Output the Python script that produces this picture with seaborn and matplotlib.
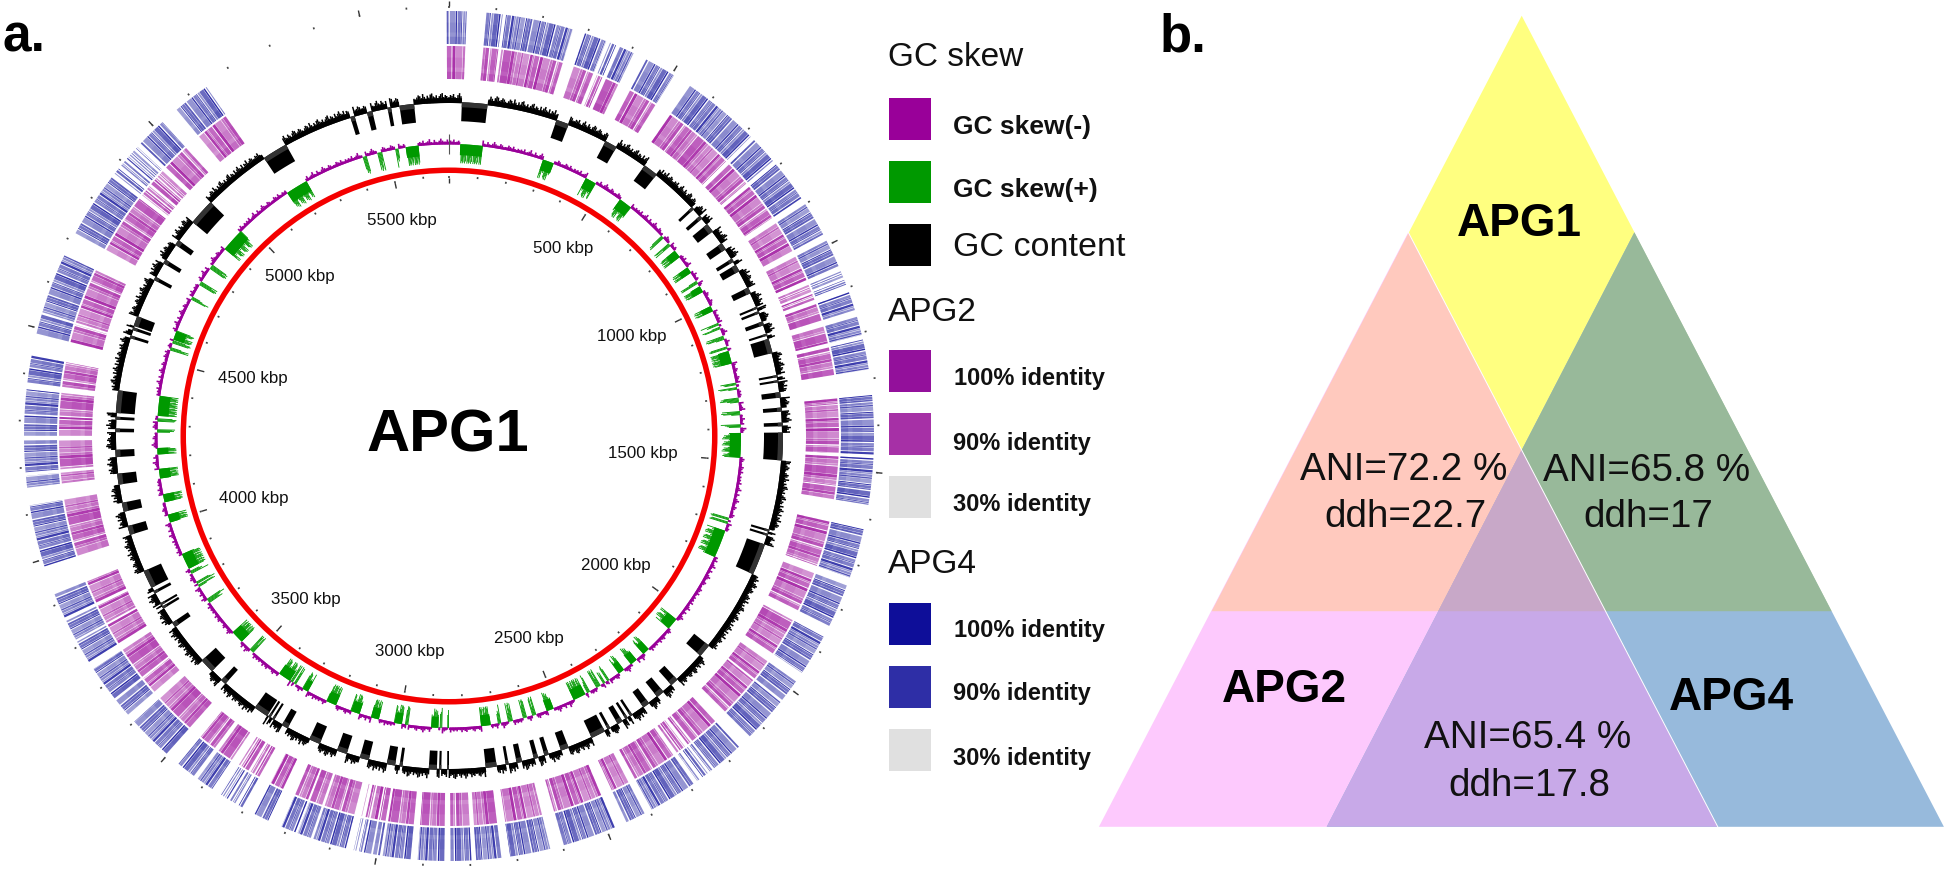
import numpy as np
import pandas as pd
import matplotlib
matplotlib.use("Agg")
import matplotlib.pyplot as plt
from matplotlib.patches import Polygon, Rectangle
from matplotlib.colors import to_rgb
import seaborn as sns

# genome map data (kbp)
genome_kbp = 5690
label_kbp = ["500 kbp", "1000 kbp", "1500 kbp", "2000 kbp", "2500 kbp", "3000 kbp",
             "3500 kbp", "4000 kbp", "4500 kbp", "5000 kbp", "5500 kbp"]

# genomic islands: black blocks in GC content, green blocks in GC skew
island_start = [35, 297, 442, 567, 738, 770, 800, 865, 915, 935, 1005, 1062, 1075, 1105, 1140, 1155,
                1256, 1270, 1303, 1345, 1386, 1413, 1680, 1692, 1722, 2037, 2163, 2213, 2263, 2318,
                2333, 2350, 2388, 2405, 2513, 2570, 2600, 2645, 2682, 2715, 2845, 2866, 2878, 2972,
                2992, 3065, 3127, 3205, 3302, 3345, 3357, 3367, 3510, 3560, 3716, 3775, 3786, 3822,
                3840, 3995, 4060, 4135, 4210, 4278, 4312, 4330, 4537, 4560, 4572, 4708, 4760, 4820,
                4897, 5158, 5418, 5465, 5522, 5555]
island_end = [105, 332, 476, 608, 746, 780, 825, 885, 925, 955, 1022, 1068, 1082, 1116, 1146, 1195,
              1262, 1276, 1318, 1356, 1396, 1489, 1686, 1698, 1809, 2073, 2185, 2235, 2282, 2325,
              2340, 2365, 2396, 2445, 2535, 2582, 2612, 2660, 2690, 2745, 2850, 2872, 2900, 2980,
              3015, 3090, 3155, 3236, 3320, 3351, 3363, 3407, 3525, 3600, 3730, 3782, 3792, 3830,
              3890, 4020, 4085, 4165, 4230, 4288, 4320, 4392, 4545, 4568, 4600, 4718, 4772, 4835,
              4970, 5228, 5430, 5480, 5532, 5595]

# blast rings: stretches with hits, gaps in between
ring_start = [-5, 80, 122, 295, 352, 375, 437, 546, 725, 795, 900, 990, 1062, 1110, 1165, 1215, 1335,
              1350, 1470, 1541, 1623, 1748, 1868, 1980, 2035, 2165, 2240, 2290, 2412, 2482, 2627,
              2733, 2797, 2855, 2927, 2993, 3012, 3032, 3067, 3145, 3180, 3243, 3305, 3380, 3428,
              3503, 3620, 3665, 3760, 3815, 3868, 3985, 4157, 4190, 4268, 4315, 4382, 4488, 4535,
              4718, 4870, 4955, 5060]
ring_end = [38, 115, 268, 343, 366, 407, 505, 715, 785, 885, 975, 1050, 1100, 1150, 1205, 1280, 1348,
            1462, 1538, 1570, 1730, 1842, 1958, 2030, 2133, 2235, 2280, 2395, 2455, 2598, 2714,
            2787, 2842, 2912, 2987, 3008, 3028, 3050, 3140, 3175, 3212, 3275, 3360, 3418, 3470,
            3600, 3660, 3742, 3810, 3860, 3922, 4119, 4182, 4258, 4312, 4368, 4440, 4530, 4665,
            4860, 4945, 5020, 5140]
sparse_start = [352, 1062, 3305, 3032, 2240, 4870]

# texture of the tracks, typed by eye from the zooms (repeats along the ring)
gc_height = [6, 8, 7, 9, 6, 5, 8, 10, 7, 6, 9, 7, 5, 8, 10, 9, 6, 7, 9, 8, 6, 5, 7, 9, 8, 6, 10, 7, 5, 8,
             6, 9, 10, 7, 6, 8, 5, 7, 9, 10, 6, 8, 7, 5, 9, 6, 8, 10, 7, 6, 9, 5, 8, 7, 10, 6, 7, 9, 8, 6]
skew_height = [3, 4, 3, 5, 2, 3, 4, 6, 3, 2, 5, 3, 2, 4, 6, 4, 3, 3, 5, 4, 2, 3, 3, 5, 4, 3, 5, 3, 2, 4]
green_depth = [17, 12, 19, 15, 11, 18, 20, 13, 16, 10, 19, 14, 17, 12, 18, 9, 16, 19, 13, 15]
apg2_width = [9, 4, 14, 6, 3, 11, 7, 16, 5, 8, 3, 12, 6, 10, 4, 18, 7, 5]
apg2_gap = [0.8, 0.6, 1.8, 0.6, 0.8, 2.2, 0.6, 1.2, 0.6, 2.8, 0.8, 0.6, 1.2, 0.6, 2, 0.8, 0.6, 1.2]
apg2_alpha = [.55, .75, .5, .9, .6, .7, .95, .55, .65, .8, .5, .7, .85, .6, .55, .75, .9, .6]
apg4_width = [5, 3, 9, 2, 6, 4, 12, 3, 7, 2, 4, 10, 3, 6, 2, 8, 5, 3]
apg4_gap = [1, 0.8, 2, 1, 0.6, 2.8, 0.8, 1.5, 0.6, 2, 1, 0.8, 2.8, 0.6, 1, 2, 0.8, 1]
apg4_alpha = [.55, .8, .45, 1, .65, .75, .5, .95, .6, .85, .5, .7, 1, .55, .8, .6, .9, .5]

# legend entries
legend_titles = ["GC skew", "APG2", "APG4"]
legend_labels = ["GC skew(-)", "GC skew(+)", "GC content", "100% identity", "90% identity",
                 "30% identity", "100% identity", "90% identity", "30% identity"]
legend_colors = ["#990099", "#009900", "#000000", "#93109b", "#a630a6", "#e0e0e0",
                 "#0e0e99", "#2e2ea6", "#e0e0e0"]

sns.set_theme(style="white")
plt.rcParams["font.family"] = ["Liberation Sans", "DejaVu Sans"]

fig = plt.figure(figsize=(19.46, 8.7), dpi=100, facecolor="white")

# polar axes for the circular map, r is in pixels
cx, cy, rmax = 449, 437, 445
pax = fig.add_axes([(cx - rmax) / 1946, (870 - cy - rmax) / 870, 2 * rmax / 1946, 2 * rmax / 870],
                   projection="polar")
pax.set_theta_zero_location("N")
pax.set_theta_direction(-1)
pax.axis("off")


def to_theta(kbp):
    return np.asarray(kbp, dtype=float) * 2 * np.pi / genome_kbp


def draw_ring(width, gap, alpha, base, r0, r1, overlay, tint):
    rgb = to_rgb(base)
    left, wide, shade = [], [], []
    for s, e in zip(ring_start, ring_end):
        scale = 3 if s in sparse_start else 1
        pos, i = s, int(abs(s)) % len(width)
        while pos < e:
            w = min(width[i % len(width)] / (2 if scale > 1 else 1), e - pos)
            left.append(pos)
            wide.append(w)
            shade.append(alpha[i % len(alpha)])
            pos += w + gap[i % len(gap)] * scale
            i += 1
    colors = [(*rgb, a) for a in shade]
    pax.bar(to_theta(left), r1 - r0, to_theta(wide), bottom=r0, color=colors, align="edge", lw=0)
    # darker band at the inner end and a faint one in the middle
    dark = [(*rgb, a * overlay) for a in shade]
    pax.bar(to_theta(left), (r1 - r0) * 0.22, to_theta(wide), bottom=r0, color=dark, align="edge", lw=0)
    pax.bar(to_theta(left), (r1 - r0) * 0.3, to_theta(wide), bottom=r0 + (r1 - r0) * 0.35,
            color=[(*rgb, a * overlay * 0.5) for a in shade], align="edge", lw=0)


draw_ring(apg4_width, apg4_gap, apg4_alpha, "#2c2ca6", 392, 425, 0.4, 0.2)
draw_ring(apg2_width, apg2_gap, apg2_alpha, "#a82aa8", 357, 390, 0.55, 0.25)


def outside_islands(step):
    pos = np.arange(0, genome_kbp, step)
    keep = np.ones(len(pos), dtype=bool)
    for s, e in zip(island_start, island_end):
        keep &= ~((pos >= s) & (pos < e))
    return pos[keep]


# rugged profile of GC content and GC skew(-) between the islands
gc_kbp = outside_islands(4)
gc_df = pd.DataFrame({"theta": to_theta(gc_kbp), "height": np.resize(gc_height, len(gc_kbp))})
sns.barplot(data=gc_df, x="theta", y="height", native_scale=True, errorbar=None, width=1,
            bottom=333, color="black", saturation=1, linewidth=0, ax=pax)
skew_kbp = outside_islands(5)
skew_df = pd.DataFrame({"theta": to_theta(skew_kbp), "height": np.resize(skew_height, len(skew_kbp))})
sns.barplot(data=skew_df, x="theta", y="height", native_scale=True, errorbar=None, width=1,
            bottom=291.5, color="#990099", saturation=1, linewidth=0, ax=pax)

# solid bands under the rugged profiles, broken at the islands
isl_s = to_theta(island_start)
isl_w = to_theta(island_end) - isl_s
gap_s = to_theta([0] + island_end)
gap_w = to_theta(island_start + [genome_kbp]) - gap_s
pax.bar(gap_s, 5, gap_w, bottom=333, color="black", align="edge", lw=0)
pax.bar(gap_s, 2.5, gap_w, bottom=291.5, color="#990099", align="edge", lw=0)

# island blocks hang inwards from the baseline
pax.bar(isl_s, 19, isl_w, bottom=315, color="black", align="edge", lw=0)
pax.bar(isl_s, 5, isl_w, bottom=329, color="#333333", align="edge", lw=0)

green_kbp, green_len = [], []
for s, e in zip(island_start, island_end):
    for pos in np.arange(s, e, 2.5):
        green_kbp.append(pos)
        green_len.append(green_depth[int(pos) % len(green_depth)])
pax.bar(to_theta(green_kbp), green_len, to_theta(2.8), bottom=[292 - g for g in green_len],
        color="#009900", align="edge", lw=0)
wide_isl = [i for i in range(len(island_start)) if island_end[i] - island_start[i] > 15]
pax.bar(isl_s[wide_isl], 11, isl_w[wide_isl], bottom=281, color="#009900", align="edge", lw=0)

pax.bar(0, 5.5, 2 * np.pi, bottom=263, color="#f40000", align="edge", lw=0)

# scale ticks every 100 kbp, longer every 500 kbp
minor = to_theta(np.arange(0, genome_kbp, 100))
major = to_theta(np.arange(0, genome_kbp, 500))
pax.vlines(minor, 258.5, 260.5, color="#444444", lw=1.2)
pax.vlines(minor, 428.5, 430.5, color="#444444", lw=1.2)
pax.vlines(major, 253, 258.5, color="#333333", lw=1)
pax.vlines(major, 430, 435, color="#333333", lw=1)
pax.vlines(0, 282, 302, color="#555555", lw=0.8)

pax.set_xlim(0, 2 * np.pi)
pax.set_ylim(0, rmax)
pax.set_xlabel("")
pax.set_ylabel("")

# overlay axes in image pixels for labels, legend and panel b
ax = fig.add_axes([0, 0, 1, 1], facecolor="none")
ax.set_xlim(0, 1946)
ax.set_ylim(870, 0)
ax.set_axis_off()
sns.despine(ax=ax, left=True, bottom=True)

ink = "#111111"
label_x = [563, 632, 643, 616, 529, 410, 306, 254, 253, 300, 402]
label_y = [248, 337, 454, 566, 639, 652, 600, 499, 379, 277, 220]
for name, x, y in zip(label_kbp, label_x, label_y):
    ax.text(x, y, name, fontsize=12.2, ha="center", va="center", color=ink)
ax.text(448, 436, "APG1", fontsize=43, fontweight="bold", ha="center", va="center", color="black")
ax.text(2, 51, "a.", fontsize=37, fontweight="bold", ha="left", va="baseline", color="black")
ax.text(1160, 51, "b.", fontsize=38, fontweight="bold", ha="left", va="baseline", color="black")

# legend
swatch_y = [99, 162, 225, 351, 414, 477, 604, 667, 730]
text_y = [127, 190, 247, 379, 443.5, 505, 631, 694, 758.5]
text_x = [953, 953, 953, 954, 953, 953, 954, 953, 953]
text_size = [19, 19, 24.5, 17, 17, 17, 17, 17, 17]
for i, name in enumerate(legend_labels):
    ax.add_patch(Rectangle((889, swatch_y[i]), 42, 42, color=legend_colors[i], lw=0))
    weight = "normal" if name == "GC content" else "bold"
    ax.text(text_x[i], text_y[i], name, fontsize=text_size[i], fontweight=weight, ha="left",
            va="center", color=ink)
for name, y in zip(legend_titles, [58, 313, 565]):
    ax.text(888, y, name, fontsize=24, ha="left", va="center", color=ink)

# panel b: three overlapping triangles
tri_top = [(1521.7, 16.7), (1211.7, 612.2), (1831.7, 612.2)]
tri_left = [(1408.3, 233.3), (1098.9, 827.8), (1717.8, 827.8)]
tri_right = [(1634.4, 233.3), (1326.7, 827.8), (1943.9, 827.8)]
tri_mid = [(1521.7, 451.1), (1438.3, 612.2), (1605.6, 612.2)]

ax.add_patch(Polygon(tri_top, color="#ffff80", lw=0))
ax.add_patch(Polygon(tri_left, color="#fdc9fd", lw=0))
ax.add_patch(Polygon(tri_right, color="#97badc", lw=0))
clip_left = Polygon(tri_left, transform=ax.transData)
clip_right = Polygon(tri_right, transform=ax.transData)
salmon = Polygon(tri_top, color="#ffc9be", lw=0)
ax.add_patch(salmon)
salmon.set_clip_path(clip_left)
green = Polygon(tri_top, color="#98b99a", lw=0)
ax.add_patch(green)
green.set_clip_path(clip_right)
purple = Polygon(tri_left, color="#c8a9e8", lw=0)
ax.add_patch(purple)
purple.set_clip_path(clip_right)
ax.add_patch(Polygon(tri_mid, color="#c8a8c8", lw=0))
ax.plot([tri_left[0][0], tri_left[2][0]], [tri_left[0][1], tri_left[2][1]], color="white", lw=0.7)

ax.text(1519, 224, "APG1", fontsize=33, fontweight="bold", ha="center", va="center", color="black")
ax.text(1284, 690.5, "APG2", fontsize=33, fontweight="bold", ha="center", va="center", color="black")
ax.text(1731, 698, "APG4", fontsize=33, fontweight="bold", ha="center", va="center", color="black")
score_text = ["ANI=72.2 %", "ddh=22.7", "ANI=65.8 %", "ddh=17", "ANI=65.4 %", "ddh=17.8"]
score_x = [1404, 1405, 1647, 1648, 1528, 1529]
score_y = [470, 517, 471, 517, 738, 786]
for name, x, y in zip(score_text, score_x, score_y):
    ax.text(x, y, name, fontsize=27.8, ha="center", va="center", color=ink)

fig.savefig("out.png", dpi=100)
